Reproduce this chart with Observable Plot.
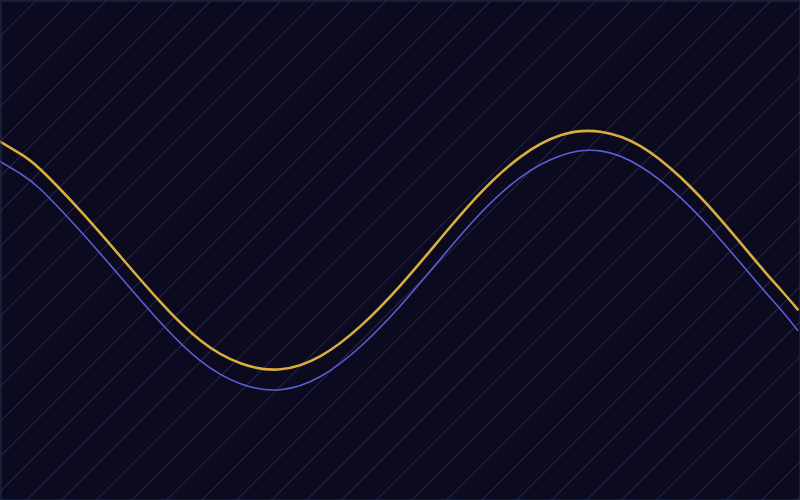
<!DOCTYPE html>
<html>
<head>
<meta charset="utf-8">
<script src="https://cdn.jsdelivr.net/npm/d3@7"></script>
<script src="https://cdn.jsdelivr.net/npm/@observablehq/plot@0.6"></script>
<style>
  html, body { margin: 0; padding: 0; background: #0c0a1e; }
  #chart svg { display: block; }
</style>
</head>
<body>
<div id="chart"></div>
<script>
// x positions (arbitrary units along the wave)
const xs = [0, 0.5, 1, 2, 3, 4, 5, 6, 7, 8, 9, 10, 11, 12, 13, 14, 15, 16, 17, 18, 19, 19.5, 19.93];
// gold (upper) series
const goldValues = [0.905, 0.805, 0.675, 0.33, -0.05, -0.43, -0.75, -0.94, -0.99, -0.88, -0.63, -0.29, 0.10, 0.48, 0.78, 0.96, 0.99, 0.87, 0.61, 0.26, -0.135, -0.325, -0.49];
// blue (lower) series
const blueValues = [0.74, 0.64, 0.51, 0.16, -0.22, -0.60, -0.92, -1.11, -1.16, -1.05, -0.80, -0.46, -0.07, 0.31, 0.61, 0.79, 0.83, 0.70, 0.44, 0.09, -0.30, -0.49, -0.665];

const gold = xs.map((x, i) => ({x, y: goldValues[i]}));
const blue = xs.map((x, i) => ({x, y: blueValues[i]}));

const plot = Plot.plot({
  width: 800,
  height: 500,
  margin: 0,
  x: {domain: [0, 20], axis: null},
  y: {domain: [-2.083, 2.083], axis: null},
  style: {background: "#0c0a1e"},
  marks: [
    Plot.frame({fill: "url(#hatch)", stroke: null}),
    Plot.line(blue, {x: "x", y: "y", stroke: "#5a5fd8", strokeWidth: 1.6, curve: "natural"}),
    Plot.line(gold, {x: "x", y: "y", stroke: "#d8ae3c", strokeWidth: 2.6, curve: "natural"}),
    Plot.frame({stroke: "#243251", strokeWidth: 1, inset: 0.5})
  ]
});

const ns = "http://www.w3.org/2000/svg";
const defs = document.createElementNS(ns, "defs");
const pat = document.createElementNS(ns, "pattern");
pat.setAttribute("id", "hatch");
pat.setAttribute("patternUnits", "userSpaceOnUse");
pat.setAttribute("width", "24.75");
pat.setAttribute("height", "24.75");
pat.setAttribute("patternTransform", "rotate(45)");
const bg = document.createElementNS(ns, "rect");
bg.setAttribute("width", "24.75");
bg.setAttribute("height", "24.75");
bg.setAttribute("fill", "#0c0a1e");
const ln = document.createElementNS(ns, "line");
ln.setAttribute("x1", "0.5");
ln.setAttribute("y1", "0");
ln.setAttribute("x2", "0.5");
ln.setAttribute("y2", "24.75");
ln.setAttribute("stroke", "#2b2a4e");
ln.setAttribute("stroke-width", "0.9");
pat.appendChild(bg);
pat.appendChild(ln);
defs.appendChild(pat);
plot.insertBefore(defs, plot.firstChild);

document.getElementById("chart").appendChild(plot);
</script>
</body>
</html>
